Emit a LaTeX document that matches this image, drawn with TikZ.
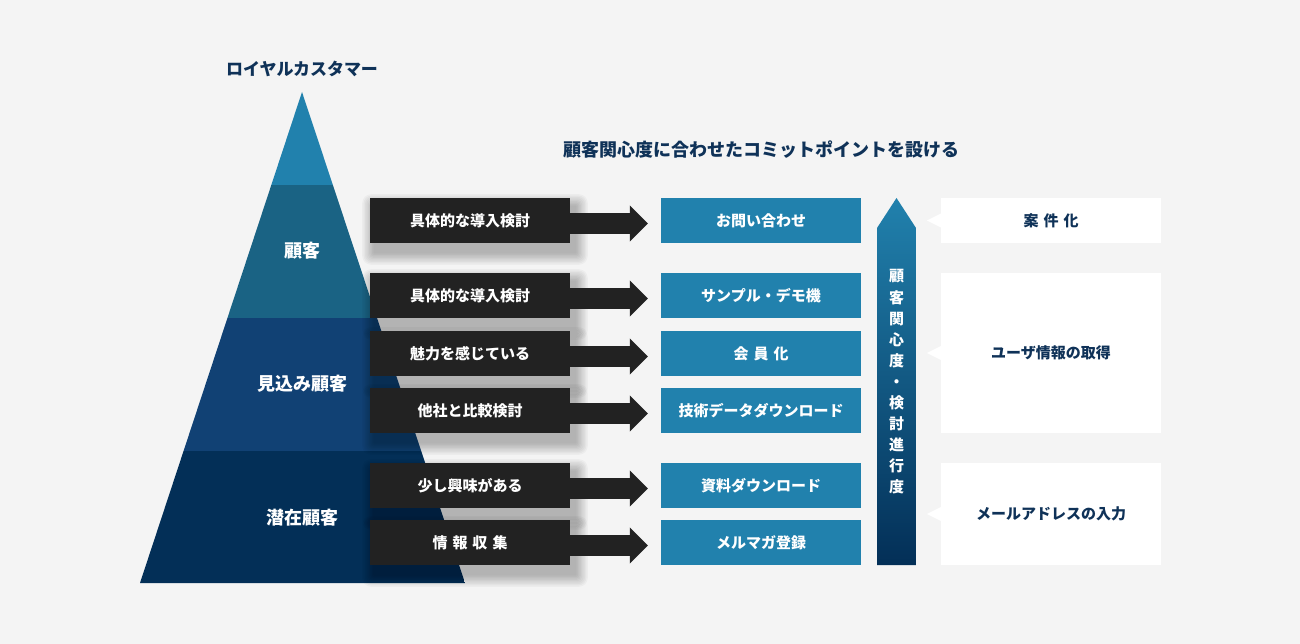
\documentclass[tikz,border=0pt]{standalone}
\usepackage{fontspec}
\setmainfont{Noto Sans CJK JP}
\usetikzlibrary{arrows.meta,calc}

\definecolor{bg}{HTML}{F4F4F4}
\definecolor{tierA}{HTML}{2181AD}
\definecolor{tierB}{HTML}{1A6384}
\definecolor{tierC}{HTML}{114174}
\definecolor{tierD}{HTML}{032F57}
\definecolor{boxblack}{HTML}{222222}
\definecolor{navy}{HTML}{0F3258}

% soft shadow under a node
\newcommand{\softshade}[1]{%
	\foreach \k in {1,...,9} {
		\fill [black, opacity=0.032, rounded corners=\k pt]
			($(#1.north west)+(5-\k*1.4,9-\k*1.4)$) rectangle ($(#1.south east)+(5+\k*1.4,9+\k*1.4)$);
	}}

\tikzset{
  stagebox/.style={fill=boxblack, text=white, minimum width=200pt, minimum height=45pt,
    inner sep=0pt, font=\bfseries\fontsize{15}{18}\selectfont},
  commitbox/.style={fill=tierA, text=white, minimum width=200pt, minimum height=45pt,
    inner sep=0pt, font=\bfseries\fontsize{15}{18}\selectfont},
  goalbox/.style={fill=white, text=navy, minimum width=220pt, inner sep=0pt,
    font=\bfseries\fontsize{15}{18}\selectfont},
  fatarrow/.style={line width=21pt, draw=boxblack, shorten >=13pt,
    -{Triangle[length=18pt 0 0,width=35pt 0 0]}},
  tierlabel/.style={text=white, font=\bfseries\fontsize{18}{22}\selectfont},
}

\begin{document}
\begin{tikzpicture}[x=1pt,y=-1pt]

		\useasboundingbox (0,0) rectangle (1300,644);
		\fill [bg] (0,0) rectangle (1300,644);

		\coordinate (Top) at (302,92);
		\coordinate (BL) at (140,583);
		\coordinate (BR) at (465,583);

		% pyramid
		\begin{scope}
			\clip (Top)--(BL)--(BR)--cycle;
			\fill [tierA] (140,90) rectangle (465,185);
			\fill [tierB] (140,185) rectangle (465,318);
			\fill [tierC] (140,318) rectangle (465,451);
			\fill [tierD] (140,451) rectangle (465,584);
		\end{scope}

		\node [text=navy, font=\bfseries\fontsize{17}{20}\selectfont] (royal) at (302,69) {ロイヤルカスタマー};
		\node [tierlabel] (kokyaku) at (302,251) {顧客};
		\node [tierlabel] (mikomi) at (302,384) {見込み顧客};
		\node [tierlabel] (senzai) at (302,518) {潜在顧客};

		\node [text=navy, font=\bfseries\fontsize{18}{22}\selectfont] (heading) at (761,150) {顧客関心度に合わせたコミットポイントを設ける};

		% stages
		\path (470,220.5) coordinate (p1) (470,295.5) coordinate (p2) (470,353.5) coordinate (p3)
			(470,410.5) coordinate (p4) (470,485.5) coordinate (p5) (470,542.5) coordinate (p6);
		\foreach \i in {1,...,6} {
			\path (p\i) node [minimum width=200pt, minimum height=45pt, inner sep=0pt] (sh\i) {};
			\softshade{sh\i}
		}

		\node [stagebox] (s1) at (p1) {具体的な導入検討};
		\node [stagebox] (s2) at (p2) {具体的な導入検討};
		\node [stagebox] (s3) at (p3) {魅力を感じている};
		\node [stagebox] (s4) at (p4) {他社と比較検討};
		\node [stagebox] (s5) at (p5) {少し興味がある};
		\node [stagebox] (s6) at (p6) {情\hspace{5pt}報\hspace{5pt}収\hspace{5pt}集};

		% commit points
		\node [commitbox] (c1) at (761,220.5) {お問い合わせ};
		\node [commitbox] (c2) at (761,295.5) {サンプル・デモ機};
		\node [commitbox] (c3) at (761,353.5) {会\hspace{5pt}員\hspace{5pt}化};
		\node [commitbox] (c4) at (761,410.5) {技術データダウンロード};
		\node [commitbox] (c5) at (761,485.5) {資料ダウンロード};
		\node [commitbox] (c6) at (761,542.5) {メルマガ登録};

		\draw [fatarrow] ([yshift=-3pt]s1.east) -- ([yshift=-3pt]c1.west);
		\draw [fatarrow] ([yshift=-3pt]s2.east) -- ([yshift=-3pt]c2.west);
		\draw [fatarrow] ([yshift=-3pt]s3.east) -- ([yshift=-3pt]c3.west);
		\draw [fatarrow] ([yshift=-3pt]s4.east) -- ([yshift=-3pt]c4.west);
		\draw [fatarrow] ([yshift=-3pt]s5.east) -- ([yshift=-3pt]c5.west);
		\draw [fatarrow] ([yshift=-3pt]s6.east) -- ([yshift=-3pt]c6.west);

		% interest arrow
		\shade [top color=tierA, bottom color=tierD] (877,565) -- (877,228) -- (896.5,198) -- (916,228) -- (916,565) -- cycle;
		\node [text=white, align=center, font=\bfseries\fontsize{15}{21.1}\selectfont] (interest) at (896.5,382)
			{顧\\客\\関\\心\\度\\・\\検\\討\\進\\行\\度};

		% goals
		\node [goalbox, minimum height=45pt] (g1) at (1051,220.5) {案\hspace{5pt}件\hspace{5pt}化};
		\node [goalbox, minimum height=160pt] (g2) at (1051,353) {ユーザ情報の取得};
		\node [goalbox, minimum height=102pt] (g3) at (1051,514) {メールアドレスの入力};

		\fill [white] ([yshift=7pt]g1.west) -- ++(-14,7) -- ++(14,7) -- cycle;
		\fill [white] ([yshift=7pt]g2.west) -- ++(-14,7) -- ++(14,7) -- cycle;
		\fill [white] ([yshift=7pt]g3.west) -- ++(-14,7) -- ++(14,7) -- cycle;

\end{tikzpicture}
\end{document}
